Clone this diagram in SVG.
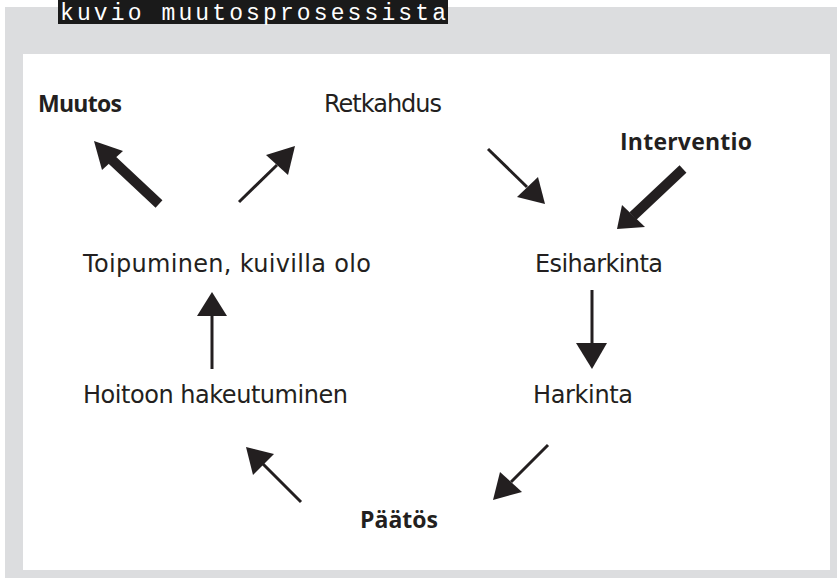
<svg xmlns="http://www.w3.org/2000/svg" width="837" height="578" viewBox="0 0 837 578">
<style>
.lbl{font-family:"DejaVu Sans","Liberation Sans",sans-serif;font-size:24px;fill:#231f20}
.b{font-family:"Open Sans","DejaVu Sans",sans-serif;font-weight:bold;font-size:23px}
.shaft{stroke:#231f20;fill:none}
.thin{stroke-width:3}
.thick{stroke-width:10}
.head{fill:#231f20}
</style>
<rect x="0" y="0" width="837" height="578" fill="#ffffff"/>
<rect x="5" y="7" width="832" height="571" fill="#dcdddf"/>
<rect x="23" y="54" width="807" height="516" fill="#ffffff"/>
<g id="title">
<rect x="58" y="0" width="390" height="24" fill="#1a1a1a"/>
<text x="60" y="20" font-family="Liberation Mono, monospace" font-size="23" fill="#ffffff" textLength="386">kuvio muutosprosessista</text>
</g>
<g id="muutos"><text class="lbl b" x="38" y="112" textLength="84">Muutos</text></g>
<g id="retkahdus"><text class="lbl" x="324" y="112" textLength="118">Retkahdus</text></g>
<g id="interventio"><text class="lbl b" x="620" y="150" textLength="132">Interventio</text></g>
<g id="toipuminen"><text class="lbl" x="83" y="272" textLength="288">Toipuminen, kuivilla olo</text></g>
<g id="esiharkinta"><text class="lbl" x="535" y="272" textLength="128">Esiharkinta</text></g>
<g id="hoitoon"><text class="lbl" x="83" y="403" textLength="265">Hoitoon hakeutuminen</text></g>
<g id="harkinta"><text class="lbl" x="533" y="403" textLength="100">Harkinta</text></g>
<g id="paatos"><text class="lbl b" x="360" y="528" textLength="78">Päätös</text></g>
<g id="connectors">
<line class="shaft thick" x1="159" y1="204" x2="112" y2="160"/>
<polygon class="head" points="94,141 123,151 102,170"/>
<line class="shaft thin" x1="239" y1="202" x2="277" y2="165"/>
<polygon class="head" points="295,146 266,155 288,175"/>
<line class="shaft thin" x1="488" y1="149" x2="527" y2="187"/>
<polygon class="head" points="545,204 517,197 538,177"/>
<line class="shaft thick" x1="683" y1="169" x2="633" y2="216"/>
<polygon class="head" points="617,229 622,205 645,227"/>
<line class="shaft thin" x1="592" y1="290" x2="592" y2="344"/>
<polygon class="head" points="576,343 607,343 592,369"/>
<line class="shaft thin" x1="548" y1="445" x2="511" y2="482"/>
<polygon class="head" points="493,500 500,472 522,492"/>
<line class="shaft thin" x1="301" y1="502" x2="263" y2="464"/>
<polygon class="head" points="246,447 274,454 253,475"/>
<line class="shaft thin" x1="212" y1="369" x2="212" y2="315"/>
<polygon class="head" points="197,316 227,316 212,292"/>
</g>
</svg>
